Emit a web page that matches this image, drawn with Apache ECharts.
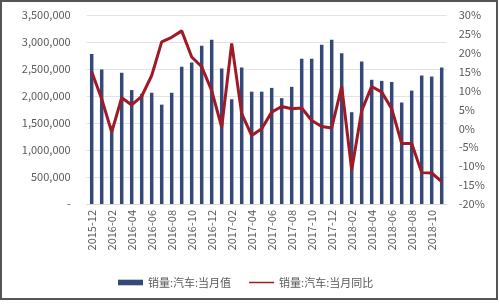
<!DOCTYPE html>
<html><head><meta charset="utf-8">
<script src="https://cdn.jsdelivr.net/npm/echarts@6/dist/echarts.min.js"></script>
<style>html,body{margin:0;padding:0;background:#fff}#c{width:500px;height:304px}</style>
</head><body><div id="c"></div>
<script>
var categories = ['2015-12','2016-01','2016-02','2016-03','2016-04','2016-05','2016-06','2016-07','2016-08','2016-09','2016-10','2016-11','2016-12',
'2017-01','2017-02','2017-03','2017-04','2017-05','2017-06','2017-07','2017-08','2017-09','2017-10','2017-11','2017-12',
'2018-01','2018-02','2018-03','2018-04','2018-05','2018-06','2018-07','2018-08','2018-09','2018-10','2018-11'];
var salesValue = [2780000,2490000,1450000,2430000,2110000,2040000,2060000,1840000,2060000,2540000,2620000,2930000,3040000,
2510000,1940000,2530000,2080000,2080000,2150000,1960000,2170000,2690000,2690000,2950000,3040000,
2790000,1700000,2640000,2300000,2280000,2260000,1880000,2100000,2380000,2360000,2530000];
var salesYoY = [15.0,7.8,-1.0,8.1,6.2,8.5,14.0,22.9,24.1,25.8,18.9,16.3,10.0,
0.3,22.5,3.9,-1.9,-0.1,4.3,5.8,5.2,5.4,2.1,0.5,0.1,
11.1,-11.0,4.7,11.1,9.6,5.2,-4.0,-4.0,-11.7,-11.8,-14.1];
var leftTicks = {min:0, max:3500000, interval:500000};
var rightTicks = {min:-20, max:30, interval:5};
var seriesNames = ['销量:汽车:当月值','销量:汽车:当月同比'];

var font = '"Noto Sans CJK SC", "Noto Sans", sans-serif';
var lineIcon = 'path://M0,0L0.01,0L0,0.01Z M0,2L25,2L25,3.6L0,3.6Z M0,5.6L0.01,5.6L0,5.59Z';
var chart = echarts.init(document.getElementById('c'), null, {renderer:'canvas'});
chart.setOption({
  animation:false,
  textStyle:{fontFamily:font},
  graphic:[{type:'rect', shape:{x:1,y:1,width:496,height:298}, style:{fill:'none', stroke:'#555', lineWidth:2}}],
  grid:{left:86.7, right:53.3, top:15, bottom:100, containLabel:false},
  legend:{
    left:113, top:272, itemGap:18, itemWidth:25, itemHeight:5.6,
    textStyle:{color:'#595959', fontSize:11, fontFamily:font},
    data:[{name:seriesNames[0], icon:'rect'},{name:seriesNames[1], icon:lineIcon}]
  },
  xAxis:{type:'category', data:categories, boundaryGap:true,
    axisLine:{lineStyle:{color:'#d9d9d9'}}, axisTick:{show:false},
    axisLabel:{interval:1, rotate:90, color:'#595959', fontSize:11, margin:6, fontFamily:font}
  },
  yAxis:[{type:'value', min:leftTicks.min, max:leftTicks.max, interval:leftTicks.interval,
    axisLine:{show:false}, axisTick:{show:false},
    splitLine:{lineStyle:{color:'#e3e3e3'}},
    axisLabel:{color:'#595959', fontSize:11, margin:16, fontFamily:font,
      formatter:function(v){return v===0?'-':v.toLocaleString('en-US');}}
  },{type:'value', min:rightTicks.min, max:rightTicks.max, interval:rightTicks.interval,
    axisLine:{show:false}, axisTick:{show:false}, splitLine:{show:false},
    axisLabel:{color:'#595959', fontSize:11, margin:12, fontFamily:font, formatter:'{value}%'}
  }],
  series:[{name:seriesNames[0], type:'bar', data:salesValue, barWidth:3.5,
      itemStyle:{color:'#34497a'}},
    {name:seriesNames[1], type:'line', yAxisIndex:1, data:salesYoY, symbol:'none',
      lineStyle:{color:'#a01a25', width:3}, itemStyle:{color:'#a01a25'}}]
});
</script></body></html>
